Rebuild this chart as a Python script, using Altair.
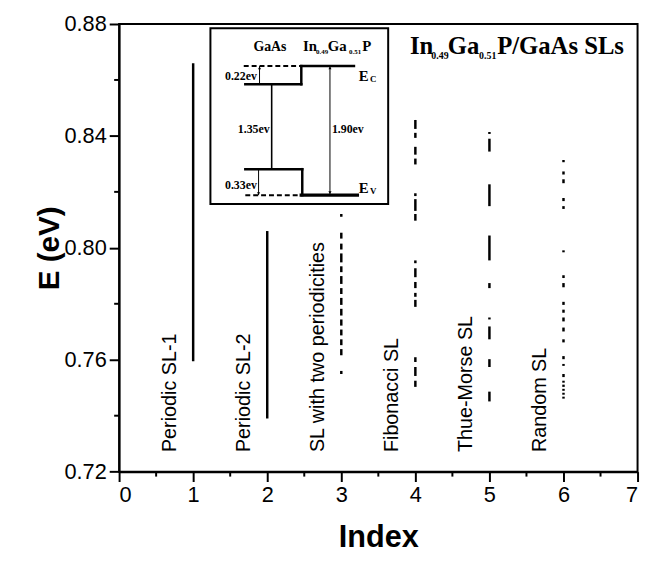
import altair as alt
import pandas as pd

# ---------------- data ----------------
index_values = [1, 2, 3, 4, 5, 6]
sl_labels = ["Periodic SL-1", "Periodic SL-2", "SL with two periodicities",
             "Fibonacci SL", "Thue-Morse SL", "Random SL"]

# energy bands / levels [low, high] in eV for each index
periodic_sl1 = [[0.7595, 0.8660]]
periodic_sl2 = [[0.7390, 0.8060]]
two_periodicities = [[0.8111, 0.8121], [0.8033, 0.8054], [0.7994, 0.8015], [0.7948, 0.7980],
                     [0.7913, 0.7934], [0.7871, 0.7899], [0.7835, 0.7856], [0.7796, 0.7821],
                     [0.7758, 0.7782], [0.7722, 0.7744], [0.7687, 0.7708], [0.7652, 0.7673],
                     [0.7616, 0.7638], [0.7549, 0.7560]]
fibonacci = [[0.8425, 0.8457], [0.8393, 0.8411], [0.8333, 0.8361], [0.8298, 0.8319],
             [0.8185, 0.8195], [0.8132, 0.8174], [0.8097, 0.8121],
             [0.7945, 0.7955], [0.7895, 0.7927], [0.7856, 0.7878], [0.7825, 0.7839],
             [0.7789, 0.7814], [0.7592, 0.7609], [0.7542, 0.7574], [0.7503, 0.7525]]
thue_morse = [[0.8407, 0.8414], [0.8344, 0.8390], [0.8149, 0.8227], [0.7955, 0.8044],
              [0.7856, 0.7874], [0.7744, 0.7751], [0.7673, 0.7719], [0.7574, 0.7602],
              [0.7451, 0.7486]]
random_sl = [[0.8306, 0.8314], [0.8262, 0.8273], [0.8231, 0.8245], [0.8167, 0.8178],
             [0.8139, 0.8149], [0.7984, 0.7991], [0.7892, 0.7902], [0.7859, 0.7874],
             [0.7796, 0.7807], [0.7768, 0.7779], [0.7737, 0.7751], [0.7701, 0.7715],
             [0.7662, 0.7673], [0.7602, 0.7613], [0.7578, 0.7585], [0.7538, 0.7549],
             [0.7518, 0.7525], [0.7503, 0.7511], [0.7489, 0.7496], [0.7475, 0.7482],
             [0.7461, 0.7468]]
bands = [periodic_sl1, periodic_sl2, two_periodicities, fibonacci, thue_morse, random_sl]

x_ticks = [0, 1, 2, 3, 4, 5, 6, 7]
x_minor = [0.5, 1.5, 2.5, 3.5, 4.5, 5.5, 6.5]
y_ticks = [0.72, 0.76, 0.80, 0.84, 0.88]
y_minor = [0.74, 0.78, 0.82, 0.86]

# ---------------- tables ----------------
rows = []
for idx, intervals in zip(index_values, bands):
    for lo, hi in intervals:
        rows.append({"x": idx, "lo": lo, "hi": hi})
levels_df = pd.DataFrame(rows)

label_offset = -0.31
label_base = 0.727
labels_df = pd.DataFrame({"x": [i + label_offset for i in index_values],
                          "y": [label_base] * len(index_values),
                          "text": sl_labels})

W, H = 525, 453.3
FONT = "Liberation Sans"
SERIF = "Liberation Serif"

xs = alt.Scale(domain=[0, 7], nice=False, zero=False)
ys = alt.Scale(domain=[0.72, 0.88], nice=False, zero=False)

ax_x = alt.Axis(values=x_ticks, format="d", tickSize=10, tickWidth=2, domainWidth=2,
                labelFontSize=22, labelFont=FONT, labelPadding=3, grid=False,
                titleFont=FONT, titleFontSize=31, titleFontWeight="bold", titlePadding=18,
                labelColor="black", titleColor="black", tickColor="black", domainColor="black")
ax_y = alt.Axis(values=y_ticks, format=".2f", tickSize=10, tickWidth=2, domainWidth=2,
                labelFontSize=22, labelFont=FONT, labelPadding=3, grid=False,
                titleFont=FONT, titleFontSize=30, titleFontWeight="bold", titlePadding=0,
                labelColor="black", titleColor="black", tickColor="black", domainColor="black")

X = lambda f: alt.X(f, type="quantitative", scale=xs, axis=ax_x, title="Index")
Y = lambda f: alt.Y(f, type="quantitative", scale=ys, axis=ax_y, title="E (eV)")

levels = alt.Chart(levels_df).mark_rule(color="black", strokeWidth=2.5, strokeCap="butt").encode(
    x=X("x"), y=Y("lo"), y2="hi")

xminor_layer = alt.Chart(pd.DataFrame({"x": x_minor})).mark_rule(color="black", strokeWidth=2).encode(
    x=X("x"), y=alt.value(H), y2=alt.value(H + 5))
yminor_layer = alt.Chart(pd.DataFrame({"y": y_minor})).mark_rule(color="black", strokeWidth=2).encode(
    y=Y("y"), x=alt.value(0), x2=alt.value(-5))

labels = alt.Chart(labels_df).mark_text(angle=270, align="left", baseline="middle",
                                        font=FONT, fontSize=20, color="black").encode(
    x=X("x"), y=Y("y"), text="text")

# ---------------- title with subscripts ----------------
title_df = pd.DataFrame({
    "text": ["In", "0.49", "Ga", "0.51", "P/GaAs SLs"],
    "x": [3.927, 4.216, 4.437, 4.860, 5.104],
    "y": [0.8691, 0.8674, 0.8691, 0.8674, 0.8691],
    "size": [25, 10, 25, 10, 25]})
title_layer = alt.Chart(title_df).mark_text(align="left", baseline="alphabetic", font=SERIF,
                                            fontWeight="bold", color="black").encode(
    x=X("x"), y=Y("y"), text="text", size=alt.Size("size:Q", scale=None, legend=None))

# ---------------- inset band diagram ----------------
inset_box = alt.Chart(pd.DataFrame({"x": [1.233], "x2": [3.633], "y": [0.81565], "y2": [0.87848]})).mark_rect(
    fill="white", stroke="black", strokeWidth=2).encode(x=X("x"), x2="x2", y=Y("y"), y2="y2")

solid_df = pd.DataFrame({
    "x":  [2.460, 2.460, 1.704, 1.704, 2.473, 2.460],
    "x2": [3.171, 2.460, 2.460, 2.473, 2.473, 3.216],
    "y":  [0.86496, 0.85847, 0.85847, 0.82811, 0.81883, 0.81883],
    "y2": [0.86496, 0.86496, 0.85847, 0.82811, 0.82811, 0.81883],
    "w":  [2.5, 2.5, 2.5, 2.5, 2.5, 3.5]})
solid_layer = alt.Chart(solid_df).mark_rule(color="black", strokeCap="square").encode(
    x=X("x"), x2="x2", y=Y("y"), y2="y2", strokeWidth=alt.StrokeWidth("w:Q", scale=None, legend=None))

dash_df = pd.DataFrame({"x": [1.683, 1.704], "x2": [2.460, 2.460],
                        "y": [0.86496, 0.81883], "y2": [0.86496, 0.81883]})
dash_layer = alt.Chart(dash_df).mark_rule(color="black", strokeWidth=2, strokeDash=[5, 3]).encode(
    x=X("x"), x2="x2", y=Y("y"), y2="y2")

thin_df = pd.DataFrame({"x": [1.896, 2.060, 2.847, 1.883], "x2": [1.896, 2.060, 2.847, 1.883],
                        "y": [0.85847, 0.82811, 0.81907, 0.81883],
                        "y2": [0.86496, 0.85847, 0.86496, 0.82811],
                        "w": [1, 1.6, 1, 1]})
thin_layer = alt.Chart(thin_df).mark_rule(color="black").encode(
    x=X("x"), x2="x2", y=Y("y"), y2="y2", strokeWidth=alt.StrokeWidth("w:Q", scale=None, legend=None))

arrow_df = pd.DataFrame({"x": [2.847, 2.847, 1.896, 1.883],
                         "y": [0.8643, 0.8197, 0.8643, 0.8194],
                         "shape": ["triangle-up", "triangle-down", "triangle-up", "triangle-down"]})
arrow_layer = alt.Chart(arrow_df).mark_point(filled=True, color="black", size=10, opacity=1).encode(
    x=X("x"), y=Y("y"), shape=alt.Shape("shape:N", scale=None, legend=None))

inset_center_df = pd.DataFrame({"text": ["GaAs"], "x": [2.037], "y": [0.87026]})
inset_center = alt.Chart(inset_center_df).mark_text(align="center", baseline="alphabetic", font=SERIF,
                                                    fontWeight="bold", fontSize=14, color="black").encode(
    x=X("x"), y=Y("y"), text="text")

inset_text_df = pd.DataFrame({
    "text": ["In", "Ga", "P", "E", "E"],
    "x": [2.483, 2.816, 3.283, 3.237, 3.237],
    "y": [0.87026, 0.87026, 0.87026, 0.8598, 0.8196]})
inset_text = alt.Chart(inset_text_df).mark_text(align="left", baseline="alphabetic", font=SERIF,
                                                fontWeight="bold", fontSize=15, color="black").encode(
    x=X("x"), y=Y("y"), text="text")

inset_sub_df = pd.DataFrame({
    "text": ["0.49", "0.51", "C", "V"],
    "x": [2.660, 3.104, 3.387, 3.387],
    "y": [0.8693, 0.8693, 0.8593, 0.8192],
    "size": [7, 7, 9, 9]})
inset_sub = alt.Chart(inset_sub_df).mark_text(align="left", baseline="alphabetic", font=SERIF,
                                              fontWeight="bold", color="black").encode(
    x=X("x"), y=Y("y"), text="text", size=alt.Size("size:Q", scale=None, legend=None))

gap_right_df = pd.DataFrame({"text": ["0.22ev", "1.35ev", "0.33ev"],
                             "x": [1.860, 2.033, 1.860],
                             "y": [0.86143, 0.84258, 0.82261]})
gap_right = alt.Chart(gap_right_df).mark_text(align="right", baseline="middle", font=SERIF,
                                              fontWeight="bold", fontSize=12, color="black").encode(
    x=X("x"), y=Y("y"), text="text")
gap_left_df = pd.DataFrame({"text": ["1.90ev"], "x": [2.873], "y": [0.84258]})
gap_left = alt.Chart(gap_left_df).mark_text(align="left", baseline="middle", font=SERIF,
                                            fontWeight="bold", fontSize=12, color="black").encode(
    x=X("x"), y=Y("y"), text="text")

chart = alt.layer(
    levels, xminor_layer, yminor_layer, labels, title_layer,
    inset_box, solid_layer, dash_layer, thin_layer, arrow_layer,
    inset_center, inset_text, inset_sub, gap_right, gap_left
).properties(
    width=W, height=H,
    autosize=alt.AutoSizeParams(type="none"),
    padding={"left": 112.5, "top": 12.7, "right": 4.5, "bottom": 89},
    background="white"
).configure_view(stroke="black", strokeWidth=2)

chart.save("out.html", embed_options={"renderer": "svg", "actions": False})
